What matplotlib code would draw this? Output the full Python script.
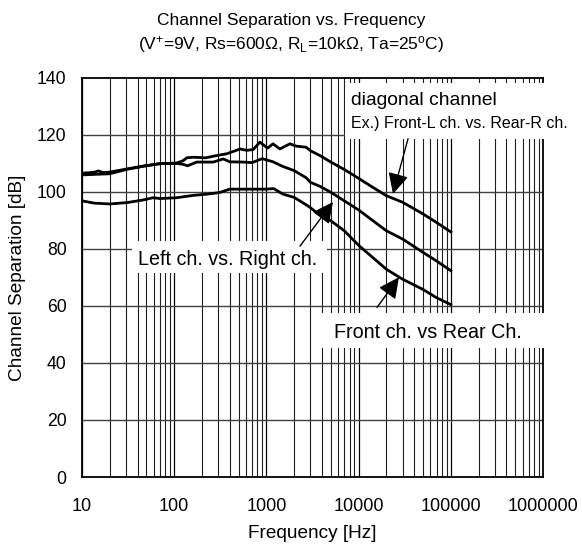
import matplotlib
matplotlib.use("Agg")
import matplotlib.pyplot as plt
import numpy as np
from matplotlib.patches import Rectangle

plt.rcParams['font.family'] = ['Liberation Sans', 'DejaVu Sans']
plt.rcParams['mathtext.fontset'] = 'custom'
plt.rcParams['mathtext.rm'] = 'Liberation Sans'
plt.rcParams['mathtext.it'] = 'Liberation Sans:italic'

# ---- data ----
freq_diag = [10, 13.5, 15, 17, 20, 31, 46, 70, 107, 125, 137, 160, 220, 290, 370,
             520, 610, 720, 850, 1030, 1180, 1400, 1800, 2100, 2700, 3000, 3800,
             5000, 7000, 10000, 14000, 20000, 30000, 50000, 70000, 100000]
sep_diag = [106.6, 106.9, 107.4, 106.8, 107.0, 108.1, 109.1, 109.9, 110.2, 111.0,
            112.0, 112.2, 112.0, 112.8, 113.4, 115.1, 114.6, 114.9, 117.5, 115.4,
            116.9, 115.1, 116.9, 116.1, 115.7, 114.5, 112.8, 110.5, 107.9, 104.8,
            101.8, 98.7, 96.4, 92.3, 89.3, 86.0]

freq_lr = [10, 20, 31, 46, 70, 107, 125, 140, 175, 265, 340, 400, 560, 700, 900,
           1180, 1500, 2000, 2700, 3000, 3800, 5000, 7000, 10000, 20000, 30000,
           50000, 70000, 100000]
sep_lr = [106.0, 106.4, 108.0, 109.0, 110.0, 110.0, 109.7, 109.2, 110.5, 110.5,
          111.6, 110.6, 110.5, 110.3, 111.7, 110.6, 109.0, 107.5, 105.0, 103.4,
          102.0, 99.9, 96.9, 93.7, 86.4, 83.5, 78.8, 75.8, 72.4]

freq_fr = [10, 13.5, 20, 31, 46, 59, 70, 107, 160, 220, 310, 400, 600, 1000, 1200,
           1500, 2000, 2700, 3000, 3500, 5000, 7000, 10000, 20000, 30000, 50000,
           70000, 100000]
sep_fr = [96.9, 96.1, 95.8, 96.3, 97.2, 98.0, 97.7, 98.0, 98.8, 99.2, 99.8, 101.0,
          101.0, 101.0, 101.2, 99.3, 98.1, 95.5, 94.5, 92.8, 89.9, 86.4, 81.3,
          72.9, 69.4, 65.8, 62.9, 60.5]

x_ticks = [10, 100, 1000, 10000, 100000, 1000000]
x_ticklabels = ['10', '100', '1000', '10000', '100000', '1000000']
y_ticks = [0, 20, 40, 60, 80, 100, 120, 140]

fig = plt.figure(figsize=(5.82, 5.49), dpi=100)
ax = fig.add_axes([82/582, 1-477/549, (543-82)/582, (477-78)/549])
ax.set_xscale('log')
ax.set_xlim(10, 1e6)
ax.set_ylim(0, 140)

# grid
for dec in [10, 100, 1000, 10000, 100000]:
    for m in range(1, 10):
        xv = dec*m
        if m == 1:
            ax.axvline(xv, color='black', lw=0.9, zorder=1)
        else:
            ax.axvline(xv, color='#1e1e1e', lw=0.8, zorder=1)
for yv in y_ticks[1:-1]:
    ax.axhline(yv, color='#404040', lw=1.0, zorder=1)

ax.plot(freq_diag, sep_diag, color='black', lw=2.0, zorder=4)
ax.plot(freq_lr, sep_lr, color='black', lw=2.0, zorder=4)
ax.plot(freq_fr, sep_fr, color='black', lw=2.0, zorder=4)

ax.set_xticks(x_ticks)
ax.set_xticklabels(x_ticklabels)
ax.set_yticks(y_ticks)
ax.xaxis.set_minor_locator(matplotlib.ticker.NullLocator())
ax.tick_params(axis='both', length=0)
ax.tick_params(axis='x', pad=15, labelsize=13)
ax.tick_params(axis='y', pad=11, labelsize=12.7)
for s in ax.spines.values():
    s.set_linewidth(1.3)
    s.set_zorder(3)

ax.set_xlabel('Frequency [Hz]', fontsize=13.7, labelpad=7)
ax.set_ylabel('Channel Separation [dB]', fontsize=13.7, labelpad=8)

fig.text(0.5, 1-25/549, 'Channel Separation vs. Frequency', ha='center',
         va='baseline', fontsize=12.5)
fig.text(0.5, 1-49/549, r'(V$^{+}$=9V, Rs=600Ω, R$_{\mathrm{L}}$=10kΩ, Ta=25$^{\mathrm{o}}$C)',
         ha='center', va='baseline', fontsize=12.5)

# white boxes behind annotations
def box(x0, x1, y0, y1):
    r = Rectangle((x0, y0), x1-x0, y1-y0, transform=ax.transData,
                  facecolor='white', edgecolor='none', zorder=5, clip_on=False)
    ax.add_patch(r)

box(7110, 1.95e6, 118.7, 138.4)
box(34.8, 4540, 71.7, 82.7)
box(3365, 1.19e6, 45.3, 57.4)

ax.text(8200, 130.6, 'diagonal channel', fontsize=13.9, va='baseline', zorder=6)
ax.text(8200, 122.5, 'Ex.) Front-L ch. vs. Rear-R ch.', fontsize=11.5, va='baseline', zorder=6)
ax.text(40.8, 74.3, 'Left ch. vs. Right ch.', fontsize=14.2, va='baseline', zorder=6)
ax.text(5410, 48.8, 'Front ch. vs Rear Ch.', fontsize=14.2, va='baseline', zorder=6)

ap = dict(arrowstyle='-|>,head_length=0.85,head_width=0.42', mutation_scale=15,
          color='black', lw=1.0, shrinkA=0, shrinkB=0)
ax.annotate('', xy=(23600, 99.3), xytext=(34360, 118.7), arrowprops=ap, zorder=6)
ax.annotate('', xy=(5270, 96.5), xytext=(2312, 81.0), arrowprops=ap, zorder=6)
ax.annotate('', xy=(27400, 70.1), xytext=(15850, 59.5), arrowprops=ap, zorder=6)

fig.savefig('out.png', dpi=100)
